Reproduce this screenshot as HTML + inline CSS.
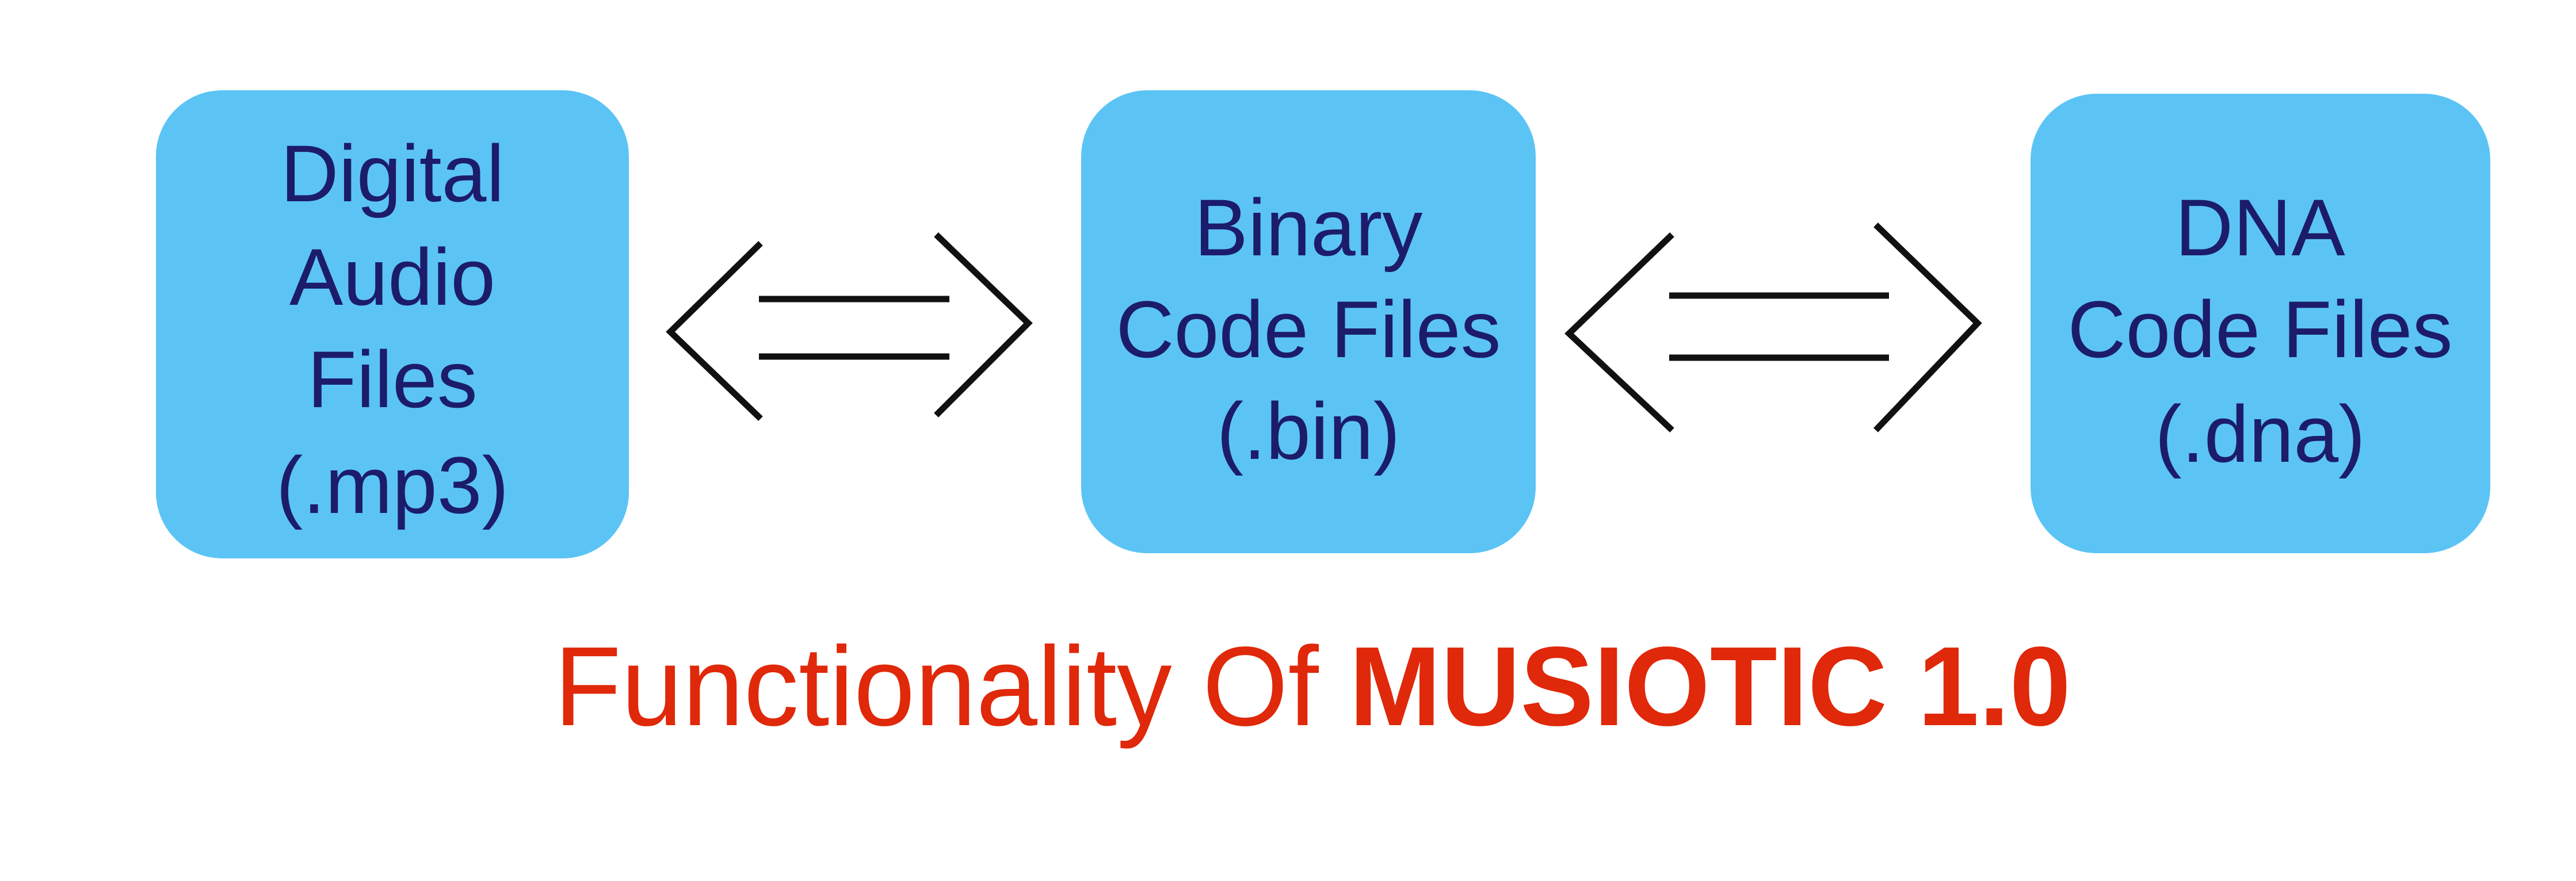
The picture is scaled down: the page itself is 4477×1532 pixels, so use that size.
<!DOCTYPE html>
<html><head><meta charset="utf-8"><style>html,body{margin:0;padding:0;background:#fff}svg{display:block}</style></head>
<body>
<svg width="4477" height="1532" viewBox="0 0 4477 1532" xmlns="http://www.w3.org/2000/svg">
<rect x="0" y="0" width="4477" height="1532" fill="#fff"/>
<g fill="#5BC4F5">
<rect x="271" y="157" width="822" height="814" rx="115"/>
<rect x="1879" y="157" width="790" height="805" rx="115"/>
<rect x="3529" y="163" width="799" height="799" rx="115"/>
</g>
<g font-family="Liberation Sans, sans-serif" font-size="140" fill="#1c1c6b" text-anchor="middle">
<text x="682" y="350">Digital</text>
<text x="682" y="530">Audio</text>
<text x="682" y="708">Files</text>
<text x="682" y="892">(.mp3)</text>
<text x="2274" y="444">Binary</text>
<text x="2274" y="621">Code Files</text>
<text x="2274" y="798">(.bin)</text>
<text x="3928" y="444">DNA</text>
<text x="3928" y="621">Code Files</text>
<text x="3928" y="803">(.dna)</text>
</g>
<g stroke="#111" stroke-width="11" fill="none">
<polyline points="1322,423 1165,577 1322,728"/>
<line x1="1319" y1="520" x2="1650" y2="520"/>
<line x1="1319" y1="620" x2="1650" y2="620"/>
<polyline points="1627,408 1787,562 1627,722"/>
<polyline points="2906,408 2727,580 2906,748"/>
<line x1="2901" y1="514" x2="3283" y2="514"/>
<line x1="2901" y1="622" x2="3283" y2="622"/>
<polyline points="3260,391 3437,562 3260,748"/>
</g>
<text x="963" y="1261" font-family="Liberation Sans, sans-serif" font-size="196" fill="#e0280a" textLength="2636" lengthAdjust="spacingAndGlyphs">Functionality Of <tspan font-weight="bold">MUSIOTIC 1.0</tspan></text>
</svg>
</body></html>
